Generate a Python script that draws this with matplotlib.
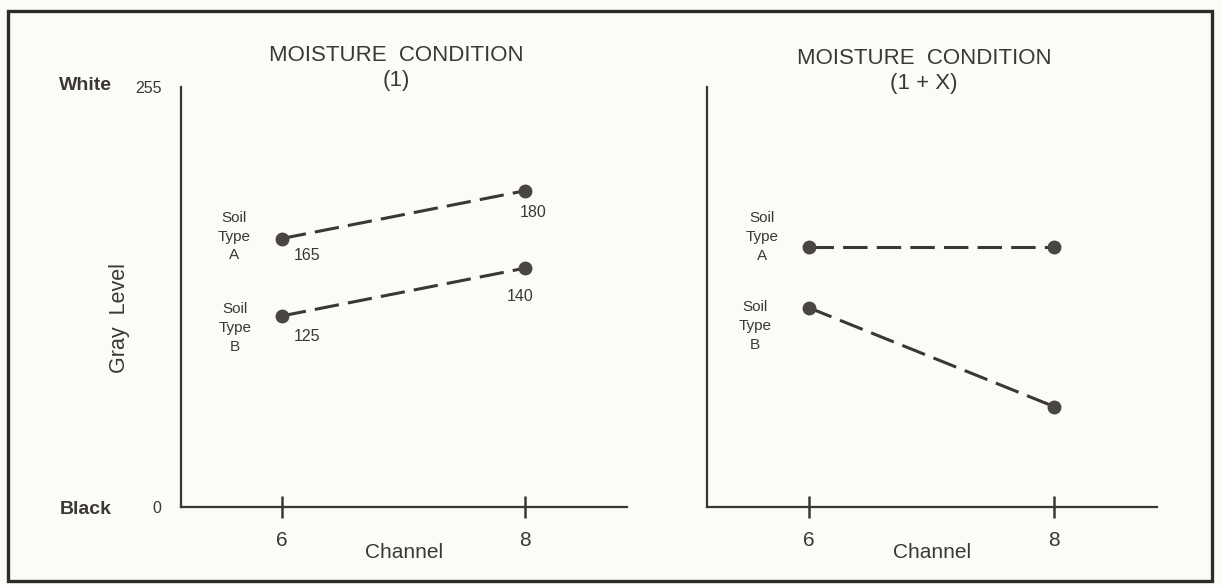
import matplotlib
matplotlib.use("Agg")
import matplotlib.pyplot as plt
from matplotlib.patches import Rectangle

# ---- data ----
channels = [6, 8]
channel_labels = ["6", "8"]
# left panel: moisture condition (1)
left_a = [163, 192]
left_b = [116, 145]
left_a_labels = ["165", "180"]
left_b_labels = ["125", "140"]
# right panel: moisture condition (1 + X)
right_a = [158, 158]
right_b = [121, 61]
titles = ["MOISTURE  CONDITION\n(1)", "MOISTURE  CONDITION\n(1 + X)"]

INK = "#3b3737"
BG = "#fcfcf7"
FONT = "Liberation Sans"
plt.rcParams["font.family"] = [FONT, "DejaVu Sans"]

W, H = 1221, 585
fig = plt.figure(figsize=(W / 100, H / 100), dpi=100, facecolor=BG)

def px_axes(x0, y0, x1, y1):
    return fig.add_axes([x0 / W, (H - y1) / H, (x1 - x0) / W, (y1 - y0) / H])

axL = px_axes(181, 87, 627, 507)
axR = px_axes(707, 87, 1157, 507)

for ax in (axL, axR):
    ax.set_facecolor("none")
    ax.set_xlim(5.17, 8.84)
    ax.set_ylim(0, 255)
    for s in ("top", "right"):
        ax.spines[s].set_visible(False)
    for s in ("left", "bottom"):
        ax.spines[s].set_color(INK)
        ax.spines[s].set_linewidth(1.6)
    ax.set_xticks(channels)
    ax.set_xticklabels(channel_labels)
    ax.tick_params(axis="x", direction="inout", length=16, width=1.8,
                   color=INK, labelcolor=INK, labelsize=15, pad=9)
    ax.set_xlabel("Channel", fontsize=15, color=INK, labelpad=-5)

axL.set_yticks([0, 255])
axL.set_yticklabels(["0", "255"])
axL.tick_params(axis="y", length=0, labelsize=11.5, labelcolor=INK, pad=14)
axR.set_yticks([])

line_kw = dict(color=INK, lw=2.2, dashes=(8, 3), marker="o", markersize=9,
               markerfacecolor="#4a4545", markeredgecolor="#4a4545", zorder=3)

axL.plot(channels, left_a, **line_kw)
axL.plot(channels, left_b, **line_kw)
axR.plot(channels, right_a, **line_kw)
axR.plot(channels, right_b, **line_kw)

def vlabel(ax, x, y, txt, dx, dy):
    ax.annotate(txt, (x, y), xytext=(dx * 0.72, -dy * 0.72), textcoords="offset points",
                ha="center", va="center", fontsize=11.5, color=INK)

offsA = [(25, 17), (8, 22)]
offsB = [(25, 21), (-5, 28)]
for i in range(2):
    vlabel(axL, channels[i], left_a[i], left_a_labels[i], *offsA[i])
    vlabel(axL, channels[i], left_b[i], left_b_labels[i], *offsB[i])

def soil(ax, x, y, letter, dx, dy):
    ax.annotate("Soil\nType\n" + letter, (x, y), xytext=(dx * 0.72, -dy * 0.72),
                textcoords="offset points", ha="center", va="center",
                fontsize=11, color=INK, linespacing=1.45, multialignment="center")

soil(axL, channels[0], left_a[0], "A", -48, -2)
soil(axL, channels[0], left_b[0], "B", -47, 12)
soil(axR, channels[0], right_a[0], "A", -47, -10)
soil(axR, channels[0], right_b[0], "B", -54, 18)

# titles
fig.text(396 / W, 1 - 68 / H, titles[0], ha="center", va="center", fontsize=16,
         color=INK, linespacing=1.2)
fig.text(924 / W, 1 - 71 / H, titles[1], ha="center", va="center", fontsize=16,
         color=INK, linespacing=1.2)

# side labels
fig.text(85 / W, 1 - 86 / H, "White", ha="center", va="center", fontsize=14,
         color=INK, fontweight="bold")
fig.text(86 / W, 1 - 509 / H, "Black", ha="center", va="center", fontsize=14,
         color=INK, fontweight="bold")
fig.text(119 / W, 1 - 318 / H, "Gray  Level", ha="center", va="center", fontsize=15.5,
         color=INK, rotation=90)

# frame border
fig.patches.append(Rectangle((8 / W, 1 - 581 / H), (1212 - 8) / W, (581 - 11) / H,
                             transform=fig.transFigure, fill=False,
                             edgecolor="#2e2b2b", lw=2.4))

fig.savefig("out.png", dpi=100, facecolor=BG)
